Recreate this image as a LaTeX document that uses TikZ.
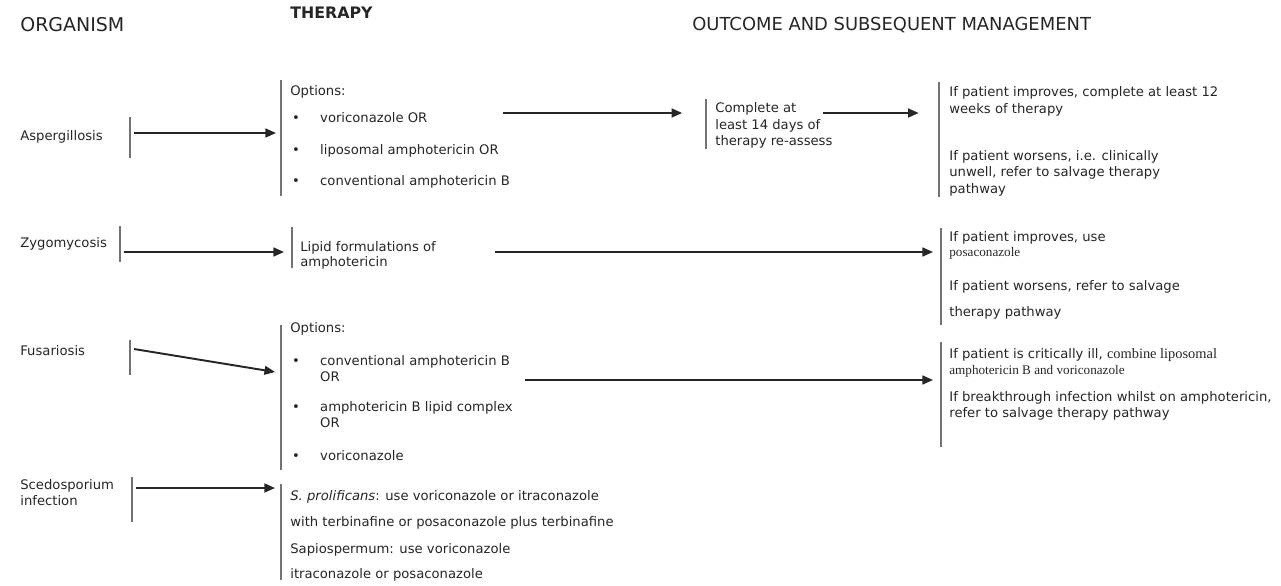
\documentclass[tikz,border=0pt]{standalone}
\usepackage{fontspec}
\setmainfont{DejaVu Sans}
\newfontfamily\serifpart{Liberation Serif}
\usetikzlibrary{arrows.meta,calc}
\newcommand\itm{\makebox[17pt][l]{\hspace{1pt}\textbullet}}
\newcommand\ind{\makebox[17pt][l]{}}

\begin{document}
\begin{tikzpicture}[x=0.02cm, y=-0.02cm,
  every node/.style={font=\fontsize{7.5}{9.5}\selectfont, text=black!85, inner sep=0pt},
  hd/.style={font=\fontsize{10.2}{12}\selectfont, anchor=west},
  txt/.style={anchor=north west, align=left},
  bar/.style={fill=black!55, minimum width=0.7pt, minimum height=#1*0.02cm},
  arr/.style={-{Triangle[length=6pt,width=5pt]}, line width=1.1pt, draw=black!85}]
	\useasboundingbox (0,0) rectangle (1281,585);
	% column headings
	\node[hd, font=\fontsize{10.8}{12}\selectfont] (horg) at (20,25) {ORGANISM};
	\node[hd, font=\bfseries\fontsize{9}{11}\selectfont] (hther) at (290,13) {THERAPY};
	\node[hd] (hout) at (692,25) {OUTCOME AND SUBSEQUENT MANAGEMENT};
	% Aspergillosis
	\node[anchor=west] (asp) at (20,137) {Aspergillosis};
	\node[bar=41] (aspb) at (130,137.5) {};
	\node[bar=116] (aspt) at (281,138) {};
	\node[txt] (aspopt) at (290,85.5) {Options:\\[5.8pt]\itm voriconazole OR\\[8.6pt]\itm liposomal amphotericin OR\\[8.1pt]\itm conventional amphotericin B};
	\node[bar=50] (aspc) at (706,124) {};
	\node[txt] (aspcomp) at (715,102) {Complete at\\least 14 days of\\therapy re-assess};
	\node[bar=115] (aspo) at (939,139.5) {};
	\node[txt] (aspout) at (949,86.5) {If patient improves, complete at least 12\\weeks of therapy\\[17pt]If patient worsens, i.e. clinically\\unwell, refer to salvage therapy\\pathway};
	\coordinate (asp1) at (503,113);
	\coordinate (asp2) at (823,113);
	\draw[arr] ([shift={(3,-4.5)}]aspb.east) -- ([shift={(-4,-5)}]aspt.west);
	\draw[arr] (asp1) -- ([xshift=-13]aspc.west |- asp1);
	\draw[arr] (asp2) -- ([xshift=-11]aspo.west |- asp2);
	% Zygomycosis
	\node[anchor=west] (zyg) at (20,244) {Zygomycosis};
	\node[bar=36] (zygb) at (120,244) {};
	\node[bar=41] (zygt) at (292,247.5) {};
	\node[txt] (zygther) at (300,241.5) {Lipid formulations of\\[-1pt]amphotericin};
	\node[bar=97] (zygo) at (941,276.5) {};
	\node[txt] (zygout) at (949,231.5) {If patient improves, use\\[-1pt]{\serifpart posaconazole}\\[9.8pt]If patient worsens, refer to salvage\\[5.2pt]therapy pathway};
	\coordinate (zyg1) at (495,252);
	\draw[arr] ([shift={(3,8)}]zygb.east) -- ([shift={(-7,4.5)}]zygt.west);
	\draw[arr] (zyg1) -- ([xshift=-4]zygo.west |- zyg1);
	% Fusariosis
	\node[anchor=west] (fus) at (20,351) {Fusariosis};
	\node[bar=35] (fusb) at (130,357.5) {};
	\node[bar=145] (fust) at (281,397.5) {};
	\node[txt] (fusopt) at (290,322.5) {Options:\\[9.2pt]\itm conventional amphotericin B\\[-0.4pt]\ind OR\\[7.5pt]\itm amphotericin B lipid complex\\[-0.4pt]\ind OR\\[9.2pt]\itm voriconazole};
	\node[bar=105] (fuso) at (941,394.5) {};
	\node[txt] (fusout) at (949,348.5) {If patient is critically ill, {\serifpart\fontsize{8.2}{9.5}\selectfont combine liposomal}\\[-0.4pt]{\serifpart amphotericin B and voriconazole}\\[5.8pt]If breakthrough infection whilst on amphotericin,\\[-0.4pt]refer to salvage therapy pathway};
	\coordinate (fus1) at (525,380);
	\draw[arr] ([shift={(3,-8.5)}]fusb.east) -- ([shift={(-5,-25.5)}]fust.west);
	\draw[arr] (fus1) -- ([xshift=-4]fuso.west |- fus1);
	% Scedosporium
	\node[txt] (sce) at (20,479.5) {Scedosporium\\[-0.5pt]infection};
	\node[bar=45] (sceb) at (132,499.5) {};
	\node[bar=96] (scet) at (281,532) {};
	\node[txt] (scether) at (290,490.5) {\textit{S. prolificans}: use voriconazole or itraconazole\\[5.2pt]with terbinafine or posaconazole plus terbinafine\\[5.8pt]Sapiospermum: use voriconazole\\[4.7pt]itraconazole or posaconazole};
	\draw[arr] ([shift={(3,-11.5)}]sceb.east) -- ([shift={(-5,-44)}]scet.west);
\end{tikzpicture}
\end{document}
